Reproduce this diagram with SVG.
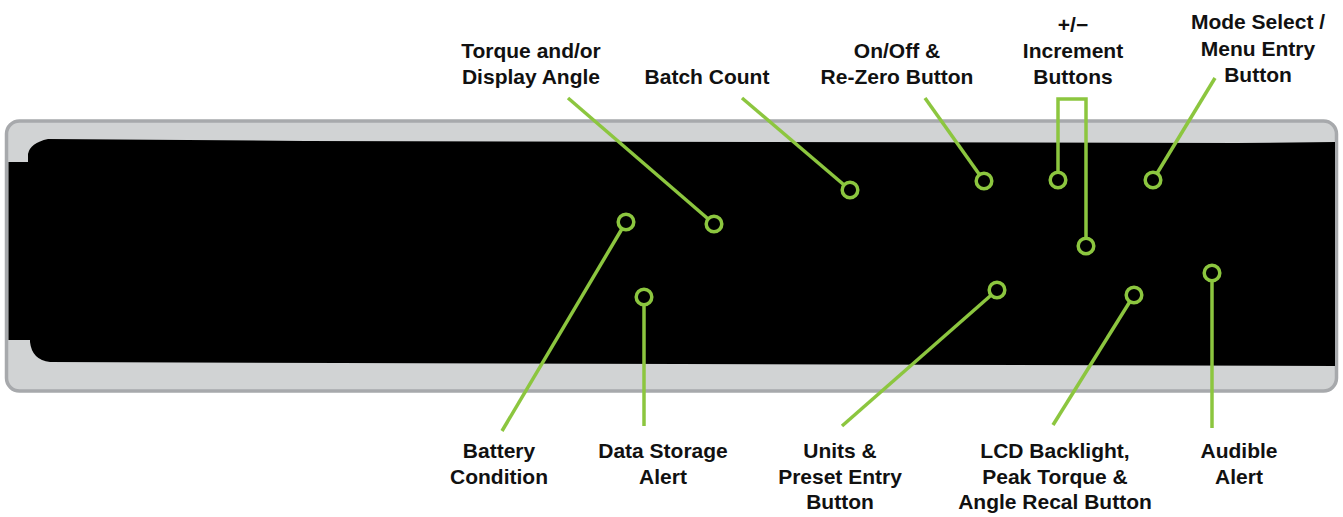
<svg xmlns="http://www.w3.org/2000/svg" width="1343" height="517" viewBox="0 0 1343 517">
<style>
.lbl{font-family:"Liberation Sans",Arial,sans-serif;font-weight:bold;font-size:21px;fill:#111;text-anchor:middle}
.con{fill:none;stroke:#8cc63f;stroke-width:3.5;stroke-linecap:butt;stroke-linejoin:miter}
.dot{fill:#000;stroke:#8cc63f;stroke-width:3.5}
</style>
<rect width="1343" height="517" fill="#fff"/>
<g id="device">
<rect x="6.5" y="121" width="1330" height="270" rx="13" ry="13" fill="#d1d3d4" stroke="#a7a9ac" stroke-width="3.5"/>
<path d="M8.5,162 L28,162 L28,154 Q30,143 48,139 L305,141 L1236,143 L1335,142 L1335,366 L50,362 Q32,360 30,342 L30,340 L8.5,340 Z" fill="#000"/>
</g>
<g id="connectors">
<line class="con" x1="568" y1="98" x2="714" y2="224"/>
<line class="con" x1="742" y1="98" x2="850" y2="190"/>
<line class="con" x1="925" y1="98" x2="984" y2="181"/>
<polyline class="con" points="1058,180 1058,99 1086,99 1086,246"/>
<line class="con" x1="1215" y1="78" x2="1153" y2="180"/>
<line class="con" x1="626" y1="222" x2="502" y2="431"/>
<line class="con" x1="644" y1="297" x2="644" y2="426"/>
<line class="con" x1="997" y1="290" x2="842" y2="426"/>
<line class="con" x1="1134" y1="295" x2="1053" y2="425"/>
<line class="con" x1="1212" y1="273" x2="1212" y2="428"/>
</g>
<g id="torque"><circle class="dot" cx="714" cy="224" r="7.8"/><text class="lbl" x="531" y="58">Torque and/or</text><text class="lbl" x="531" y="84">Display Angle</text></g>
<g id="batch"><circle class="dot" cx="850" cy="190" r="7.8"/><text class="lbl" x="707" y="84">Batch Count</text></g>
<g id="onoff"><circle class="dot" cx="984" cy="181" r="7.8"/><text class="lbl" x="897" y="58">On/Off &amp;</text><text class="lbl" x="897" y="84">Re-Zero Button</text></g>
<g id="increment"><circle class="dot" cx="1058" cy="180" r="7.8"/><circle class="dot" cx="1086" cy="246" r="7.8"/><text class="lbl" x="1073" y="32">+/−</text><text class="lbl" x="1073" y="58">Increment</text><text class="lbl" x="1073" y="84">Buttons</text></g>
<g id="mode"><circle class="dot" cx="1153" cy="180" r="7.8"/><text class="lbl" x="1258" y="29">Mode Select /</text><text class="lbl" x="1258" y="56">Menu Entry</text><text class="lbl" x="1258" y="82">Button</text></g>
<g id="battery"><circle class="dot" cx="626" cy="222" r="7.8"/><text class="lbl" x="499" y="458">Battery</text><text class="lbl" x="499" y="484">Condition</text></g>
<g id="datastorage"><circle class="dot" cx="644" cy="297" r="7.8"/><text class="lbl" x="663" y="458">Data Storage</text><text class="lbl" x="663" y="484">Alert</text></g>
<g id="units"><circle class="dot" cx="997" cy="290" r="7.8"/><text class="lbl" x="840" y="458">Units &amp;</text><text class="lbl" x="840" y="484">Preset Entry</text><text class="lbl" x="840" y="509">Button</text></g>
<g id="lcd"><circle class="dot" cx="1134" cy="295" r="7.8"/><text class="lbl" x="1055" y="458">LCD Backlight,</text><text class="lbl" x="1055" y="484">Peak Torque &amp;</text><text class="lbl" x="1055" y="509">Angle Recal Button</text></g>
<g id="audible"><circle class="dot" cx="1212" cy="273" r="7.8"/><text class="lbl" x="1239" y="458">Audible</text><text class="lbl" x="1239" y="484">Alert</text></g>
</svg>
